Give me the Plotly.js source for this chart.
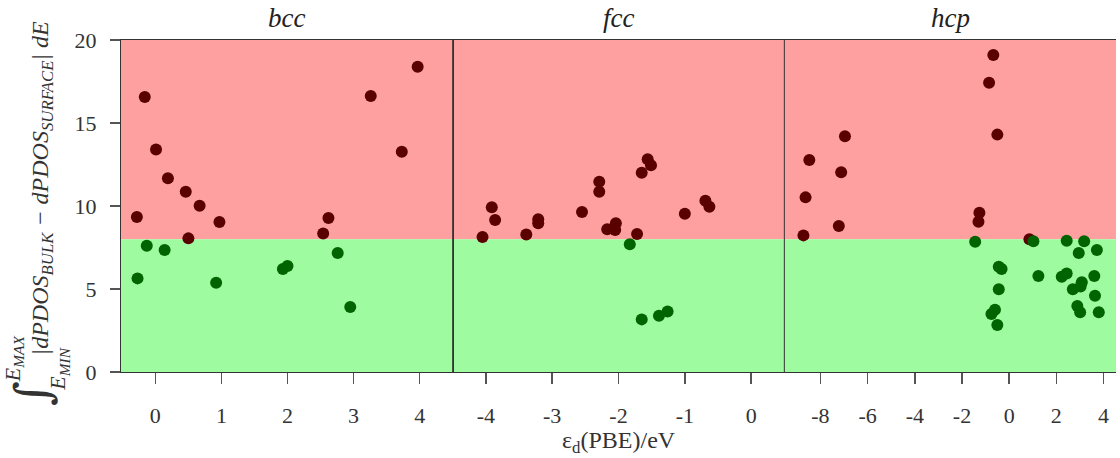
<!DOCTYPE html>
<html>
<head>
<meta charset="utf-8">
<script src="https://cdn.plot.ly/plotly-3.0.1.min.js"></script>
<style>html,body{margin:0;padding:0;background:#fff;}#chart{width:1120px;height:458px;}</style>
</head>
<body>
<div id="chart"></div>
<script>
// ---- data ----
const panelNames = ["bcc", "fcc", "hcp"];
const threshold = 8;

const bccX = [-0.28, -0.16, 0.01, 0.19, 0.46, 0.67, 0.97, 2.62, 3.26, 3.73, 3.97, 0.50, 2.54,
              -0.13, 0.14, -0.27, 0.92, 1.93, 2.00, 2.76, 2.95];
const bccY = [9.34, 16.57, 13.4, 11.67, 10.86, 10.02, 9.04, 9.28, 16.63, 13.27, 18.39, 8.05, 8.35,
              7.61, 7.35, 5.64, 5.38, 6.20, 6.39, 7.17, 3.92];

const fccX = [-1.56, -1.51, -1.65, -2.29, -2.29, -3.91, -3.86, -3.21, -3.21, -2.55, -1.00, -0.69, -0.63,
              -4.05, -3.39, -2.17, -2.04, -2.05, -1.72, -1.83, -1.65, -1.39, -1.26];
const fccY = [12.81, 12.45, 12.0, 11.46, 10.86, 9.92, 9.16, 9.2, 8.96, 9.64, 9.54, 10.32, 9.96,
              8.13, 8.29, 8.6, 8.96, 8.55, 8.31, 7.69, 3.17, 3.39, 3.65];

const hcpX = [-0.67, -0.85, -0.50, -6.96, -8.47, -7.12, -8.63, -1.26, -1.30, -7.22, -8.72,
              -1.44, 0.86, 1.03, 2.44, 3.18, 2.95, 3.72, -0.44, -0.32, 1.24, 2.23, 2.44, 3.61,
              3.08, 3.03, 2.70, -0.44, 3.64, -0.75, -0.60, -0.50, 2.89, 3.01, 3.80];
const hcpY = [19.1, 17.43, 14.3, 14.2, 12.77, 12.03, 10.52, 9.6, 9.05, 8.8, 8.23,
              7.85, 8.0, 7.88, 7.9, 7.88, 7.17, 7.35, 6.34, 6.2, 5.78, 5.74, 5.94, 5.78,
              5.4, 5.15, 4.98, 4.98, 4.6, 3.5, 3.75, 2.83, 3.98, 3.6, 3.6];

const bccTicks = [0, 1, 2, 3, 4];
const fccTicks = [-4, -3, -2, -1, 0];
const hcpTicks = [-8, -6, -4, -2, 0, 2, 4];
const yTicks = [0, 5, 10, 15, 20];

// ---- styling ----
const HI = "#5a0000", LO = "#006400";
const colorOf = ys => ys.map(v => v >= threshold ? HI : LO);
const serif = "Liberation Serif, DejaVu Serif, serif";

function tr(x, y, xa) {
  return {x: x, y: y, xaxis: xa, yaxis: "y", type: "scatter", mode: "markers",
          marker: {size: 12, color: colorOf(y)}, hoverinfo: "x+y", showlegend: false};
}
const data = [tr(bccX, bccY, "x"), tr(fccX, fccY, "x2"), tr(hcpX, hcpY, "x3")];

function xax(range, ticks, dom) {
  return {domain: dom, range: range, tickvals: ticks, ticktext: ticks.map(String),
          showgrid: false, zeroline: false, showline: true, linecolor: "#333", linewidth: 1,
          mirror: true, ticks: "outside", ticklen: 11, tickcolor: "#555", tickwidth: 1.5,
          ticklabelstandoff: 13, tickfont: {family: serif, size: 22, color: "#333"},
          anchor: "y", fixedrange: true};
}

const layout = {
  width: 1120, height: 458,
  margin: {l: 121, r: 4, t: 40, b: 86},
  paper_bgcolor: "#fff", plot_bgcolor: "#fff",
  xaxis: xax([-0.52, 4.5], bccTicks, [0, 1/3]),
  xaxis2: xax([-4.5, 0.5], fccTicks, [1/3, 2/3]),
  xaxis3: xax([-9.53, 4.53], hcpTicks, [2/3, 1]),
  yaxis: {range: [0, 20], tickvals: yTicks, showgrid: false, zeroline: false,
          showline: true, linecolor: "#333", mirror: true, ticks: "outside", ticklen: 10,
          tickcolor: "#555", tickwidth: 1.5, ticklabelstandoff: 9,
          tickfont: {family: serif, size: 22, color: "#333"}, fixedrange: true},
  shapes: [
    {type: "rect", xref: "paper", yref: "y", x0: 0, x1: 1, y0: threshold, y1: 20,
     fillcolor: "#ffa0a0", line: {width: 0}, layer: "below"},
    {type: "rect", xref: "paper", yref: "y", x0: 0, x1: 1, y0: 0, y1: threshold,
     fillcolor: "#9ffb9f", line: {width: 0}, layer: "below"},
    {type: "line", xref: "paper", yref: "paper", x0: 1/3, x1: 1/3, y0: 0, y1: 1,
     line: {color: "#333", width: 1}},
    {type: "line", xref: "paper", yref: "paper", x0: 2/3, x1: 2/3, y0: 0, y1: 1,
     line: {color: "#333", width: 1}}
  ],
  annotations: [
    ...panelNames.map((n, i) => ({text: "<i>" + n + "</i>", xref: "paper", yref: "paper",
      x: (2 * i + 1) / 6, y: 1.066, xanchor: "center", yanchor: "middle", showarrow: false,
      font: {family: serif, size: 27, color: "#222"}})),
    {text: "ε<sub>d</sub>(PBE)/eV", xref: "paper", yref: "paper", x: 0.5, y: -0.21,
     xanchor: "center", yanchor: "middle", showarrow: false,
     font: {family: serif, size: 24, color: "#333"}},
    {text: "<i>|dPDOS<sub>BULK</sub> − dPDOS<sub>SURFACE</sub>| dE</i>", xref: "paper", yref: "paper",
     x: -0.0794, y: 0.556, xanchor: "center", yanchor: "middle", textangle: -90, showarrow: false,
     font: {family: serif, size: 24, color: "#333"}},
    {text: "∫", xref: "paper", yref: "paper", x: -0.09, y: -0.065,
     xanchor: "center", yanchor: "middle", textangle: -90, showarrow: false,
     font: {family: "DejaVu Serif, serif", size: 48, color: "#333"}},
    {text: "<i>E<sub>MAX</sub></i>", xref: "paper", yref: "paper", x: -0.108, y: 0.04,
     xanchor: "center", yanchor: "middle", textangle: -90, showarrow: false,
     font: {family: serif, size: 22, color: "#333"}},
    {text: "<i>E<sub>MIN</sub></i>", xref: "paper", yref: "paper", x: -0.062, y: 0.008,
     xanchor: "center", yanchor: "middle", textangle: -90, showarrow: false,
     font: {family: serif, size: 22, color: "#333"}}
  ]
};

Plotly.newPlot("chart", data, layout, {staticPlot: true, displayModeBar: false});
</script>
</body>
</html>
